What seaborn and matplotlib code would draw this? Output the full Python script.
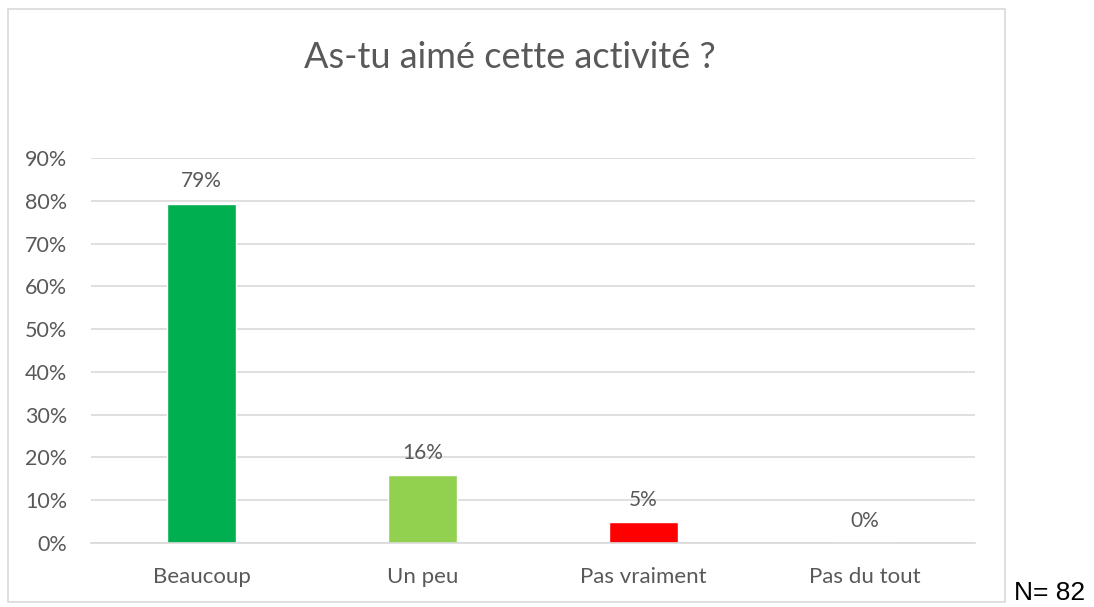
import matplotlib
matplotlib.use("Agg")
import matplotlib.pyplot as plt
import seaborn as sns
import pandas as pd
from matplotlib.patches import Rectangle


CATEGORIES = ["Beaucoup", "Un peu", "Pas vraiment", "Pas du tout"]
SHARES = [65 / 82, 13 / 82, 4 / 82, 0.0]
LABELS = ["79%", "16%", "5%", "0%"]
COLORS = ["#00B050", "#92D050", "#FF0000", "#C00000"]
Y_TICKS = [0, 0.1, 0.2, 0.3, 0.4, 0.5, 0.6, 0.7, 0.8, 0.9]
TITLE = "As-tu aimé cette activité ?"
SAMPLE_NOTE = "N= 82"

TEXT_GREY = "#595959"
GRID_GREY = "#D9D9D9"


def draw_chart():
    """Bar chart of how much the activity was liked."""
    sns.set_style("white")
    plt.rcParams["font.family"] = ["Lato", "DejaVu Sans"]

    df = pd.DataFrame({"answer": CATEGORIES, "share": SHARES})

    fig = plt.figure(figsize=(10.94, 6.07), dpi=100)
    ax = fig.add_axes([0.0832, 0.1054, 0.808, 0.6343])

    sns.barplot(
        data=df,
        x="answer",
        y="share",
        hue="answer",
        palette=COLORS,
        legend=False,
        width=0.31,
        saturation=1,
        ax=ax,
    )

    for container, label in zip(ax.containers, LABELS):
        ax.bar_label(container, labels=[label], padding=9,
                     fontsize=15, color=TEXT_GREY)

    ax.set_ylim(0, 0.9)
    ax.set_xlim(-0.5, 3.5)
    ax.set_yticks(Y_TICKS)
    ax.set_yticklabels([f"{int(round(t * 100))}%" for t in Y_TICKS])
    ax.yaxis.grid(True, color=GRID_GREY, linewidth=1.2)
    ax.set_axisbelow(True)
    ax.tick_params(axis="y", length=0, labelsize=15.5, colors=TEXT_GREY, pad=17)
    ax.tick_params(axis="x", length=0, labelsize=16, colors=TEXT_GREY, pad=17)
    ax.set_xlabel("")
    ax.set_ylabel("")
    for side in ["top", "right", "left"]:
        ax.spines[side].set_visible(False)
    ax.spines["bottom"].set_color(GRID_GREY)
    ax.spines["bottom"].set_linewidth(1.2)

    # chart frame like the spreadsheet export
    fig.patches.append(Rectangle(
        (0.0073, 0.0082), 0.911, 0.977, transform=fig.transFigure,
        fill=False, edgecolor=GRID_GREY, linewidth=1.2))

    fig.text(0.466, 0.905, TITLE, ha="center", va="center",
             fontsize=26, color=TEXT_GREY)
    fig.text(0.927, 0.004, SAMPLE_NOTE, ha="left", va="bottom",
             fontsize=19, color="black", family="Liberation Sans")

    fig.savefig("out.png", dpi=100)
    plt.close(fig)


if __name__ == "__main__":
    draw_chart()
